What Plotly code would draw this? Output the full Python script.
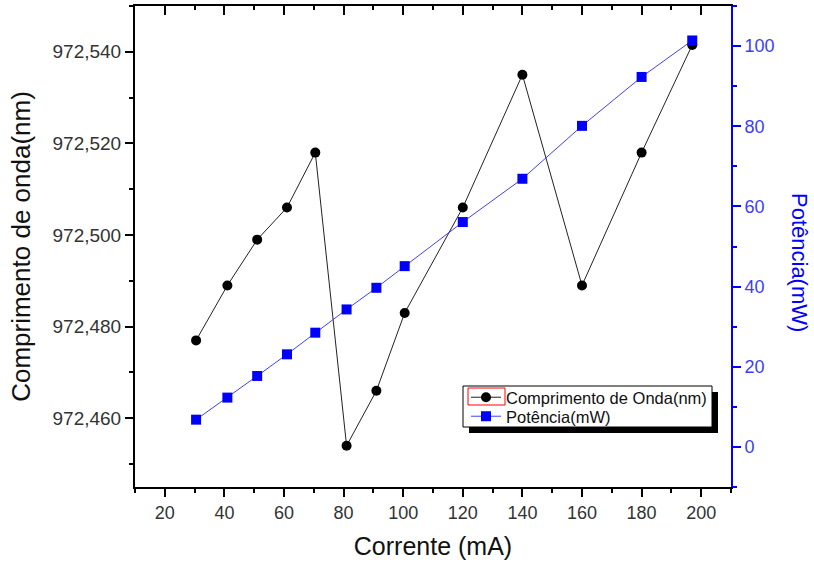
import plotly.graph_objects as go

# ---- data ----
corrente = [30.5, 41, 51, 61, 70.5, 81, 91, 100.5, 120, 140, 160, 180, 197]
comprimento = [972.477, 972.489, 972.499, 972.506, 972.518, 972.454, 972.466,
               972.483, 972.506, 972.535, 972.489, 972.518, 972.5415]
potencia = [6.8, 12.3, 17.7, 23.1, 28.5, 34.3, 39.7, 45.1, 56.1, 66.9, 80.1, 92.3, 101.4]

x_range = [10, 210]
y1_range = [972.445, 972.550]
y2_range = [-10, 110]

FONT = "Liberation Sans, Arial, sans-serif"
BLUE = "#0000ff"

fig = go.Figure()
fig.add_trace(go.Scatter(
    x=corrente, y=comprimento, mode="lines+markers",
    name="Comprimento de Onda(nm)",
    line=dict(color="#222222", width=1),
    marker=dict(symbol="circle", size=10, color="black"),
    xaxis="x", yaxis="y", legend="legend",
))
fig.add_trace(go.Scatter(
    x=corrente, y=potencia, mode="lines+markers",
    name="Potência(mW)",
    line=dict(color="#4040ff", width=1),
    marker=dict(symbol="square", size=10, color=BLUE),
    xaxis="x2", yaxis="y2", legend="legend2",
))

W, H = 814, 566
L, R, T, B = 135, 83, 6, 79
pw, ph = W - L - R, H - T - B


def px_x(px):
    return (px - L) / pw


def px_y(py):
    return (H - B - py) / ph


leg_common = dict(
    xanchor="left", yanchor="top",
    bgcolor="rgba(0,0,0,0)", borderwidth=0,
    font=dict(family=FONT, size=16.5, color="#111111"),
    itemwidth=30,
)

fig.update_layout(
    width=W, height=H,
    margin=dict(l=L, r=R, t=T, b=B, pad=0, autoexpand=False),
    paper_bgcolor="white", plot_bgcolor="white",
    separators=",.",
    font=dict(family=FONT, color="#333333"),
    showlegend=True,
    legend=dict(x=px_x(466), y=px_y(380), **leg_common),
    legend2=dict(x=px_x(466), y=px_y(399), **leg_common),
    xaxis=dict(
        range=x_range, dtick=20, tick0=0, automargin=False,
        showline=True, linecolor="black", linewidth=2,
        ticks="outside", ticklen=8, tickwidth=2, tickcolor="black",
        minor=dict(dtick=10, ticks="outside", ticklen=4, tickwidth=2, tickcolor="black"),
        showgrid=False, zeroline=False,
        tickfont=dict(size=18, color="#333333"),
        title=dict(text="Corrente (mA)", font=dict(size=25, color="#111111"), standoff=16),
    ),
    xaxis2=dict(
        range=x_range, dtick=20, tick0=0, overlaying="x", side="top", anchor="y2",
        automargin=False,
        showline=True, linecolor="black", linewidth=2,
        ticks="inside", ticklen=9, tickwidth=2, tickcolor="black",
        minor=dict(dtick=10, ticks="inside", ticklen=4, tickwidth=2, tickcolor="black"),
        showticklabels=False, showgrid=False, zeroline=False,
    ),
    yaxis=dict(
        range=y1_range, dtick=0.02, tick0=972.44, tickformat=".3f", automargin=False,
        showline=True, linecolor="black", linewidth=2,
        ticks="outside", ticklen=8, tickwidth=2, tickcolor="black",
        minor=dict(dtick=0.01, ticks="outside", ticklen=4, tickwidth=2, tickcolor="black"),
        showgrid=False, zeroline=False,
        tickfont=dict(size=19, color="#333333"),
        title=dict(text="Comprimento de onda(nm)", font=dict(size=26, color="#111111"), standoff=14),
    ),
    yaxis2=dict(
        range=y2_range, dtick=20, tick0=0, overlaying="y", side="right", anchor="x",
        automargin=False,
        showline=True, linecolor=BLUE, linewidth=2,
        ticks="outside", ticklen=8, tickwidth=2, tickcolor=BLUE,
        minor=dict(dtick=10, ticks="outside", ticklen=4, tickwidth=2, tickcolor=BLUE),
        showgrid=False, zeroline=False,
        tickfont=dict(size=18, color="#3c3cff"),
    ),
    annotations=[dict(
        text="Potência(mW)", textangle=90, xref="paper", yref="paper",
        x=px_x(800), y=px_y(262), xanchor="center", yanchor="middle",
        showarrow=False, borderpad=0,
        font=dict(family=FONT, size=22, color=BLUE),
    )],
    shapes=[
        # legend shadow
        dict(type="rect", xref="paper", yref="paper", layer="above",
             x0=px_x(469), x1=px_x(718), y0=px_y(392), y1=px_y(433),
             fillcolor="black", line=dict(width=0)),
        # legend box
        dict(type="rect", xref="paper", yref="paper", layer="above",
             x0=px_x(463), x1=px_x(712), y0=px_y(386), y1=px_y(427),
             fillcolor="white", line=dict(color="black", width=1)),
        # red selection frame around first legend symbol
        dict(type="rect", xref="paper", yref="paper", layer="above",
             x0=px_x(468), x1=px_x(505), y0=px_y(388), y1=px_y(405),
             fillcolor="rgba(0,0,0,0)", line=dict(color="red", width=1)),
    ],
)

fig.write_html("out.html", config={"displayModeBar": False},
               post_script="document.body.style.margin='0';")
